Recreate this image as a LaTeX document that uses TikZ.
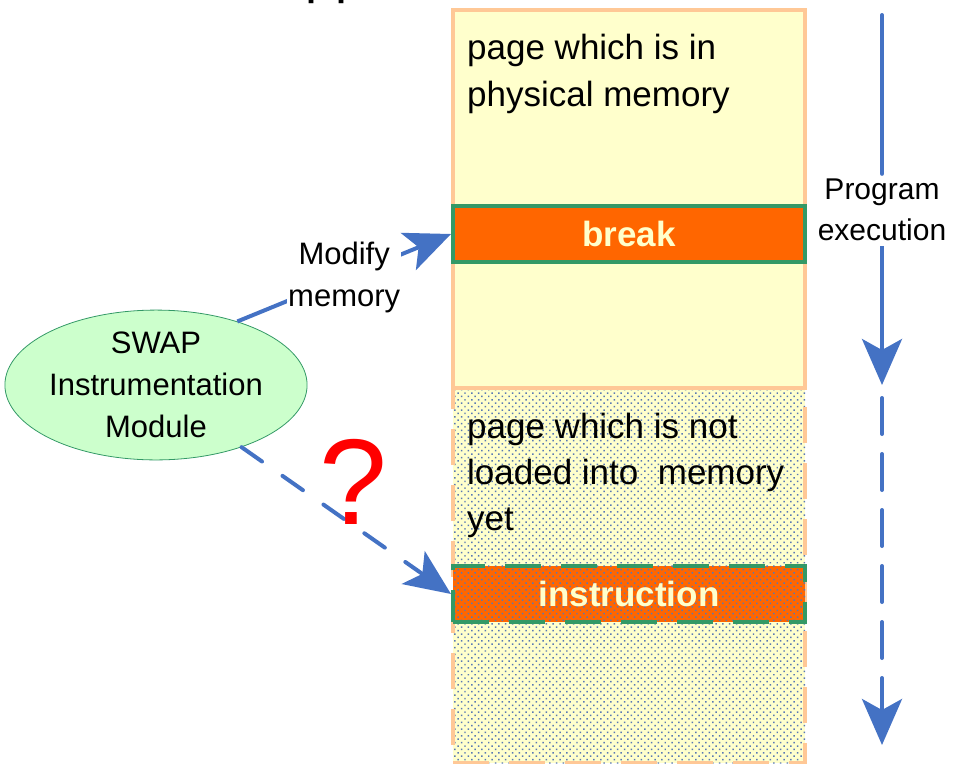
\documentclass[tikz,border=0pt]{standalone}
\usepackage{fontspec}
\setmainfont{Liberation Sans}
\usetikzlibrary{arrows.meta,shapes.geometric,patterns.meta}
\definecolor{boxorange}{HTML}{FFC896}
\definecolor{paleyellow}{HTML}{FFFFCC}
\definecolor{hotorange}{HTML}{FF6600}
\definecolor{edgegreen}{HTML}{339966}
\definecolor{arrowblue}{HTML}{4472C4}
\definecolor{dotblue}{HTML}{5878B4}
\definecolor{mintfill}{HTML}{CCFFCC}
\begin{document}
\begin{tikzpicture}[x=1pt,y=-1pt,
  pagebox/.style={draw=boxorange, line width=4pt, fill=paleyellow, minimum width=352pt, inner sep=0pt, anchor=north west},
  dotted fill/.style={preaction={fill=#1}, pattern={Dots[distance=4.8pt, radius=1.05pt, angle=45]}, pattern color=dotblue},
  markbox/.style={draw=edgegreen, line width=4pt, fill=hotorange, minimum width=352pt, minimum height=56pt, inner sep=0pt, anchor=north west,
    text=paleyellow, font=\bfseries\fontsize{35}{42}\selectfont},
  longdash/.style={dash pattern=on 36pt off 20pt},
  bluearrow/.style={draw=arrowblue, line width=4pt, -{Stealth[length=46pt, width=40pt, inset=11pt]}},
  blueline/.style={draw=arrowblue, line width=4pt},
  bodytext/.style={font=\fontsize{35}{47}\selectfont, align=left, inner sep=0pt},
  sidetext/.style={font=\fontsize{30}{41}\selectfont, align=center, inner sep=5pt},
  modtext/.style={font=\fontsize{31}{42}\selectfont, align=center}]
\useasboundingbox (0,0) rectangle (953,763);
\clip (0,0) rectangle (953,763);

% cut-off title fragment
\node[anchor=base west, inner sep=0pt, font=\fontsize{54}{60}\selectfont] (title) at (305,-8) {pp};

% memory pages
\node[pagebox, dotted fill=paleyellow, minimum height=375pt, longdash] (pageout) at (451,386) {};
\node[pagebox, minimum height=378pt] (pagein) at (451,8) {};

\node[bodytext, anchor=base west] (intext) at (467,106) {page which is in\\physical memory};
\node[bodytext, font=\fontsize{35}{46}\selectfont, anchor=base west] (outtext) at (467,530) {page which is not\\loaded into\ \ memory\\yet};

\node[markbox] (break) at (451,204) {break};
\node[markbox, dotted fill=hotorange, longdash] (instr) at (451,564) {instruction};

% instrumentation module
\node[ellipse, draw=edgegreen, line width=0.8pt, fill=mintfill, minimum width=296pt, minimum height=134pt, inner sep=0pt,
  font=\fontsize{31}{42}\selectfont, align=center] (swap) at (156,385) {SWAP\\Instrumentation\\Module};

% modify memory arrow
\draw[bluearrow] (swap.38) -- node[modtext, fill=white, inner sep=1pt, pos=0.5] (modify) {Modify\\memory} (break.west);

% dashed arrow with question mark
\draw[bluearrow, dash pattern=on 25pt off 25pt, line cap=round] (swap.-36) -- (instr.west);
\node[text=red, font=\fontsize{122}{122}\selectfont, inner sep=0pt] (question) at (353,482) {?};

% program execution
\coordinate (pe0) at (882,15);
\coordinate (pe1) at (882,385);
\coordinate (pe2) at (882,398);
\coordinate (pe3) at (882,745);
\node[sidetext] (prog) at (882,210) {Program\\execution};
\draw[blueline, line cap=round] (pe0) -- (prog.north);
\draw[bluearrow] (prog.south) -- (pe1);
\draw[bluearrow, dash pattern=on 36pt off 20pt, line cap=round] (pe2) -- (pe3);
\end{tikzpicture}
\end{document}
